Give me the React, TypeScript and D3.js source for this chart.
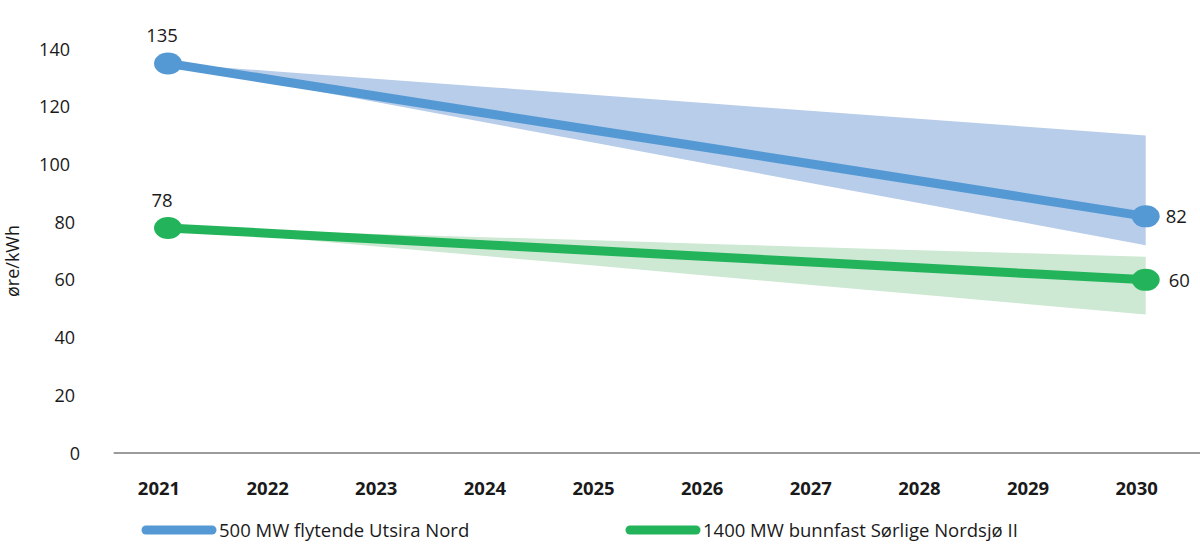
import React from "react";
import * as d3 from "d3";

const years = ["2021", "2022", "2023", "2024", "2025", "2026", "2027", "2028", "2029", "2030"];
const utsiraValues = [135, 129.1, 123.2, 117.3, 111.4, 105.6, 99.7, 93.8, 87.9, 82];
const utsiraHigh = [135, 132.2, 129.4, 126.7, 123.9, 121.1, 118.3, 115.6, 112.8, 110];
const utsiraLow = [135, 128, 121, 114, 107, 100, 93, 86, 79, 72];
const nordsjoValues = [78, 76, 74, 72, 70, 68, 66, 64, 62, 60];
const nordsjoHigh = [78, 76.9, 75.8, 74.7, 73.6, 72.4, 71.3, 70.2, 69.1, 68];
const nordsjoLow = [78, 74.7, 71.3, 68, 64.7, 61.3, 58, 54.7, 51.3, 48];
const yTicks = [0, 20, 40, 60, 80, 100, 120, 140];
const seriesNames = ["500 MW flytende Utsira Nord", "1400 MW bunnfast Sørlige Nordsjø II"];
const yAxisTitle = "øre/kWh";

const W = 1200;
const H = 556;
const BLUE = "#5599d4";
const BLUE_BAND = "#b8cdea";
const GREEN = "#23b45b";
const GREEN_BAND = "#cde8d3";
const FONT = "'Open Sans', 'Noto Sans', sans-serif";

export default function App() {
  const x = d3.scalePoint<string>().domain(years).range([113.7, 1200]).padding(0.5);
  const y = d3.scaleLinear().domain([0, 140]).range([453, 49]);

  const band = (hi: number[], lo: number[]) =>
    d3
      .area<number>()
      .x((_, i) => x(years[i])!)
      .y0((_, i) => y(lo[i]))
      .y1((_, i) => y(hi[i]))(hi) || "";

  const line = (vals: number[]) =>
    d3
      .line<number>()
      .x((_, i) => x(years[i])!)
      .y((d) => y(d))(vals) || "";

  const series = [
    { vals: utsiraValues, hi: utsiraHigh, lo: utsiraLow, color: BLUE, bandColor: BLUE_BAND },
    { vals: nordsjoValues, hi: nordsjoHigh, lo: nordsjoLow, color: GREEN, bandColor: GREEN_BAND },
  ];

  const first = years[0];
  const last = years[years.length - 1];

  return (
    <svg width={W} height={H} style={{ position: "absolute", left: 0, top: 0, background: "#fff" }} fontFamily={FONT}>
      {series.map((s, k) => (
        <path key={"b" + k} d={band(s.hi, s.lo)} fill={s.bandColor} />
      ))}
      <line x1={113.7} x2={1200} y1={y(0)} y2={y(0)} stroke="#7a7a7a" strokeWidth={1.5} />
      {series.map((s, k) => (
        <path key={"l" + k} d={line(s.vals)} fill="none" stroke={s.color} strokeWidth={9} />
      ))}
      {series.map((s, k) => (
        <g key={"m" + k}>
          <ellipse cx={x(first)} cy={y(s.vals[0])} rx={14} ry={11} fill={s.color} />
          <ellipse cx={x(last)} cy={y(s.vals[s.vals.length - 1])} rx={14} ry={11} fill={s.color} />
        </g>
      ))}
      {series.map((s, k) => (
        <g key={"dl" + k} fontSize={18.5} fill="#1a1a1a">
          <text x={x(first)! - 6} y={y(s.vals[0]) - 21} textAnchor="middle">
            {s.vals[0]}
          </text>
          <text x={x(last)! + (k === 0 ? 20 : 23)} y={y(s.vals[s.vals.length - 1]) + 7} textAnchor="start">
            {s.vals[s.vals.length - 1]}
          </text>
        </g>
      ))}
      {yTicks.map((t) => {
        const len = String(t).length;
        return (
          <text key={t} x={80 - 5 * (len - 1)} y={y(t) + 6.5} textAnchor="end" fontSize={18} fill="#1a1a1a">
            {t}
          </text>
        );
      })}
      <text transform={`translate(19,261) rotate(-90)`} textAnchor="middle" fontSize={18} fill="#1a1a1a">
        {yAxisTitle}
      </text>
      {years.map((yr) => (
        <text key={yr} x={x(yr)! - 9} y={495} textAnchor="middle" fontSize={18.5} fontWeight="bold" fill="#1a1a1a">
          {yr}
        </text>
      ))}
      {seriesNames.map((name, k) => {
        const x0 = k === 0 ? 146 : 630;
        return (
          <g key={"lg" + k}>
            <line x1={x0} x2={x0 + 66} y1={530} y2={530} stroke={series[k].color} strokeWidth={9} strokeLinecap="round" />
            <text x={x0 + 73} y={536.5} fontSize={18.5} fill="#1a1a1a">
              {name}
            </text>
          </g>
        );
      })}
    </svg>
  );
}
